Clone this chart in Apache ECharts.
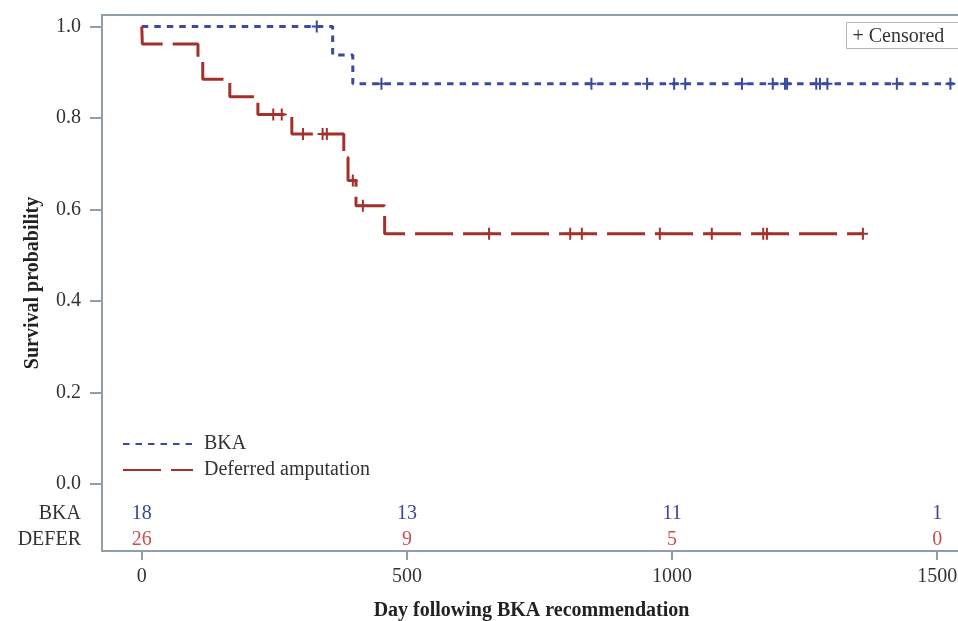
<!DOCTYPE html>
<html>
<head>
<meta charset="utf-8">
<script src="https://cdn.jsdelivr.net/npm/echarts@6/dist/echarts.min.js"></script>
<style>html,body{margin:0;padding:0;background:#fff;}#c{width:958px;height:621px;}</style>
</head>
<body>
<div id="c"></div>
<script>
// ---- data ----
const xTicks = [0, 500, 1000, 1500];
const yTicks = [0, 0.2, 0.4, 0.6, 0.8, 1.0];
const bkaTimes = [0, 360, 398, 1540];
const bkaSurv = [1, 0.9375, 0.875, 0.875];
const deferTimes = [0, 1, 106, 115, 166, 219, 283, 381, 389, 404, 458, 1360];
const deferSurv = [1, 0.9615, 0.9231, 0.8846, 0.8462, 0.8077, 0.7652, 0.7142, 0.6632, 0.6079, 0.5471, 0.5471];
const bkaCensor = [330, 452, 848, 953, 1004, 1025, 1132, 1190, 1213, 1217, 1272, 1279, 1293, 1424, 1525];
const deferCensor = [248, 264, 304, 341, 349, 398, 417, 655, 808, 830, 977, 1075, 1172, 1179, 1360];
const riskTimes = [0, 500, 1000, 1500];
const riskBKA = [18, 13, 11, 1];
const riskDEFER = [26, 9, 5, 0];
const riskRowNames = ['BKA', 'DEFER'];

// ---- layout / style ----
const ROW_BKA_Y = -0.065, ROW_DEFER_Y = -0.122;
const BLUE = '#3b4a9e', RED = '#a3302a', RISK_BLUE = '#3a4698', RISK_RED = '#c9504e';
const FRAME = '#8e9fa7';
const FONT = '"Liberation Serif", "DejaVu Serif", serif';
const FS = 20;
const plusPath = 'path://M-1,-6H1V-1H5V1H1V6H-1V1H-5V-1H-1Z';

function survAt(times, surv, t) {
  let s = surv[0];
  for (let i = 0; i < times.length; i++) if (times[i] <= t) s = surv[i];
  return s;
}
const bkaLine = bkaTimes.map((t, i) => [t, bkaSurv[i]]);
const deferLine = deferTimes.map((t, i) => [t, deferSurv[i]]);
const bkaC = bkaCensor.map(t => [t, survAt(bkaTimes, bkaSurv, t)]);
const deferC = deferCensor.map(t => [t, survAt(deferTimes, deferSurv, t)]);

const chart = echarts.init(document.getElementById('c'), null, {renderer: 'canvas'});
chart.setOption({
  animation: false,
  backgroundColor: '#fff',
  grid: {left: 102, top: 15, width: 859, bottom: 70, containLabel: false, outerBoundsMode: 'none',
         show: true, borderColor: FRAME, borderWidth: 2, backgroundColor: 'transparent'},
  xAxis: {
    type: 'value', min: -75, max: 1545,
    name: 'Day following BKA recommendation', nameLocation: 'middle', nameGap: 50, nameMoveOverlap: false,
    nameTextStyle: {fontFamily: FONT, fontWeight: 'bold', fontSize: FS, color: '#222'},
    axisLine: {show: true, onZero: false, lineStyle: {color: FRAME, width: 2}},
    axisTick: {show: true, customValues: xTicks, length: 9, lineStyle: {color: FRAME, width: 2}},
    axisLabel: {customValues: xTicks, margin: 16, fontFamily: FONT, fontSize: FS, color: '#333',
                formatter: v => String(v)},
    splitLine: {show: false}
  },
  yAxis: {
    type: 'value', min: -0.1464, max: 1.025,
    name: 'Survival probability', nameLocation: 'middle', nameGap: 59, nameMoveOverlap: false,
    nameTextStyle: {fontFamily: FONT, fontWeight: 'bold', fontSize: FS, color: '#222'},
    axisLine: {show: true, onZero: false, lineStyle: {color: FRAME, width: 2}},
    axisTick: {show: true, customValues: yTicks, length: 12, lineStyle: {color: FRAME, width: 2}},
    axisLabel: {
      customValues: [ROW_DEFER_Y, ROW_BKA_Y].concat(yTicks), margin: 21,
      fontFamily: FONT, fontSize: FS, color: '#333',
      formatter: function (v) {
        if (Math.abs(v - ROW_BKA_Y) < 1e-6) return riskRowNames[0];
        if (Math.abs(v - ROW_DEFER_Y) < 1e-6) return riskRowNames[1];
        return v.toFixed(1);
      }
    },
    splitLine: {show: false}
  },
  legend: {
    data: ['BKA', 'Deferred amputation'], orient: 'vertical', left: 117, top: 429,
    itemWidth: 70, itemHeight: 14, itemGap: 6,
    itemStyle: {opacity: 0},
    textStyle: {fontFamily: FONT, fontSize: FS, color: '#333', padding: [0, 0, 0, 6]}
  },
  graphic: [{
    type: 'group', left: 846, top: 22,
    children: [
      {type: 'rect', shape: {x: 0, y: 0, width: 120, height: 26}, style: {fill: '#fff', stroke: '#b5b5b5', lineWidth: 1}},
      {type: 'text', x: 6, y: 14, style: {text: '+ Censored', font: FS + 'px ' + FONT, fill: '#333', verticalAlign: 'middle'}}
    ]
  }],
  series: [
    {name: 'BKA', type: 'line', step: 'end', data: bkaLine, symbol: 'none', color: BLUE,
     lineStyle: {color: BLUE, width: 3, type: [6.5, 6], cap: 'butt'}},
    {name: 'Deferred amputation', type: 'line', step: 'end', data: deferLine, symbol: 'none', color: RED,
     lineStyle: {color: RED, width: 3, type: [38, 10], cap: 'butt'}},
    {name: 'BKA censored', type: 'scatter', data: bkaC, symbol: plusPath, symbolSize: [10, 12], itemStyle: {color: BLUE, opacity: 1}},
    {name: 'Deferred censored', type: 'scatter', data: deferC, symbol: plusPath, symbolSize: [10, 12], itemStyle: {color: RED, opacity: 1}},
    {name: 'Risk BKA', type: 'scatter', symbolSize: 1, itemStyle: {color: 'rgba(0,0,0,0)', opacity: 1},
     data: riskTimes.map(t => [t, ROW_BKA_Y]),
     label: {show: true, position: 'inside', formatter: p => String(riskBKA[p.dataIndex]), fontFamily: FONT, fontSize: FS, color: RISK_BLUE, opacity: 1}},
    {name: 'Risk DEFER', type: 'scatter', symbolSize: 1, itemStyle: {color: 'rgba(0,0,0,0)', opacity: 1},
     data: riskTimes.map(t => [t, ROW_DEFER_Y]),
     label: {show: true, position: 'inside', formatter: p => String(riskDEFER[p.dataIndex]), fontFamily: FONT, fontSize: FS, color: RISK_RED, opacity: 1}}
  ]
});
</script>
</body>
</html>
